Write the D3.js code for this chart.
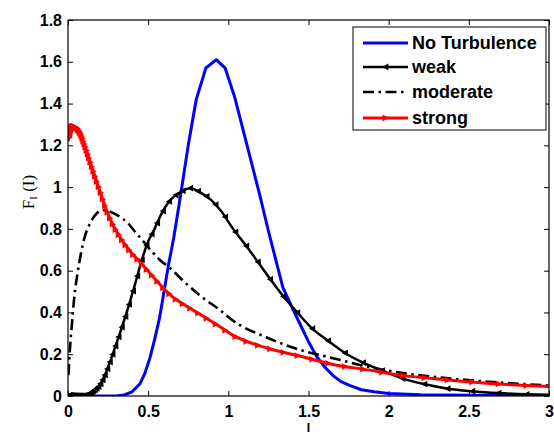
<!DOCTYPE html>
<html>
<head>
<meta charset="utf-8">
<script src="https://cdn.jsdelivr.net/npm/d3@7"></script>
<style>
  body { margin: 0; background: #fff; }
  svg { display: block; }
  .tick text { font-family: "Liberation Sans", Arial, sans-serif; font-weight: bold; font-size: 16px; fill: #000; }
</style>
</head>
<body>
<div id="chart"></div>
<script>
// ---- data: [I, F_I(I)] ----
var noTurbulence = [
  [0, 0], [0.30, 0], [0.35, 0.005], [0.40, 0.02], [0.45, 0.06], [0.48, 0.11], [0.51, 0.18],
  [0.54, 0.27], [0.57, 0.37], [0.59, 0.46], [0.625, 0.62], [0.66, 0.76], [0.70, 0.95],
  [0.75, 1.20], [0.80, 1.42], [0.86, 1.57], [0.925, 1.61], [0.98, 1.57], [1.04, 1.43],
  [1.10, 1.25], [1.15, 1.10], [1.20, 0.95], [1.25, 0.79], [1.30, 0.64], [1.34, 0.52],
  [1.40, 0.42], [1.45, 0.34], [1.50, 0.26], [1.55, 0.19], [1.60, 0.14], [1.65, 0.10],
  [1.70, 0.07], [1.76, 0.05], [1.83, 0.03], [1.91, 0.02], [2.0, 0.012], [2.2, 0.006],
  [2.5, 0.003], [3.0, 0.001]
];
var weak = [
  [0, 0], [0.08, 0], [0.12, 0.006], [0.16, 0.025], [0.20, 0.055], [0.23, 0.10], [0.26, 0.16],
  [0.31, 0.27], [0.37, 0.41], [0.42, 0.54], [0.46, 0.65], [0.50, 0.74], [0.54, 0.80],
  [0.575, 0.86], [0.64, 0.94], [0.70, 0.975], [0.76, 0.995], [0.825, 0.975], [0.89, 0.94],
  [0.95, 0.89], [1.03, 0.80], [1.12, 0.71], [1.20, 0.625], [1.27, 0.55], [1.35, 0.47],
  [1.43, 0.40], [1.52, 0.325], [1.63, 0.26], [1.74, 0.20], [1.84, 0.16], [1.95, 0.125],
  [2.07, 0.088], [2.22, 0.057], [2.37, 0.035], [2.52, 0.023], [2.69, 0.014], [2.86, 0.008],
  [3.0, 0.006]
];
var moderate = [
  [0.003, 0.10], [0.01, 0.20], [0.025, 0.35], [0.04, 0.48], [0.06, 0.59], [0.08, 0.68],
  [0.10, 0.75], [0.14, 0.83], [0.18, 0.875], [0.22, 0.89], [0.27, 0.88], [0.32, 0.86],
  [0.37, 0.83], [0.42, 0.785], [0.47, 0.74], [0.525, 0.69], [0.575, 0.65], [0.64, 0.61],
  [0.72, 0.55], [0.825, 0.48], [0.95, 0.41], [1.03, 0.36], [1.24, 0.28], [1.45, 0.22],
  [1.66, 0.18], [1.87, 0.14], [2.07, 0.112], [2.37, 0.085], [2.68, 0.065], [3.0, 0.05]
];
var strong = [
  [0.001, 1.22], [0.01, 1.26], [0.03, 1.29], [0.05, 1.285], [0.075, 1.26], [0.10, 1.21],
  [0.13, 1.14], [0.16, 1.07], [0.20, 0.98], [0.24, 0.89], [0.28, 0.82], [0.325, 0.76],
  [0.38, 0.70], [0.45, 0.64], [0.52, 0.58], [0.59, 0.52], [0.66, 0.47], [0.74, 0.43],
  [0.825, 0.39], [0.95, 0.33], [1.03, 0.29], [1.24, 0.23], [1.45, 0.19], [1.66, 0.15],
  [1.87, 0.125], [2.07, 0.10], [2.37, 0.077], [2.68, 0.058], [3.0, 0.045]
];
var seriesNames = ["No Turbulence", "weak", "moderate", "strong"];
var xTicks = [0, 0.5, 1, 1.5, 2, 2.5, 3];
var yTicks = [0, 0.2, 0.4, 0.6, 0.8, 1, 1.2, 1.4, 1.6, 1.8];

// ---- layout ----
var svgWidth = 554, svgHeight = 435;
var margin = { top: 20, right: 5, bottom: 39, left: 68 };
var width = svgWidth - margin.left - margin.right;   // 481
var height = svgHeight - margin.top - margin.bottom; // 376

var svg = d3.select("#chart").append("svg")
  .attr("width", svgWidth)
  .attr("height", svgHeight);
var g = svg.append("g").attr("transform", `translate(${margin.left},${margin.top})`);

var x = d3.scaleLinear().domain([0, 3]).range([0, width]);
var y = d3.scaleLinear().domain([0, 1.8]).range([height, 0]);

var fmt = d => String(+d.toFixed(1));

// axes (ticks point inward like MATLAB)
g.append("g").attr("transform", `translate(0,${height})`)
  .call(d3.axisBottom(x).tickValues(xTicks).tickFormat(fmt).tickSizeInner(-5).tickSizeOuter(0).tickPadding(10));
g.append("g")
  .call(d3.axisLeft(y).tickValues(yTicks).tickFormat(fmt).tickSizeInner(-5).tickSizeOuter(0).tickPadding(6));
g.append("g")
  .call(d3.axisTop(x).tickValues(xTicks).tickFormat("").tickSizeInner(-5).tickSizeOuter(0));
g.append("g").attr("transform", `translate(${width},0)`)
  .call(d3.axisRight(y).tickValues(yTicks).tickFormat("").tickSizeInner(-5).tickSizeOuter(0));
g.selectAll(".domain").remove();
g.selectAll(".tick line").attr("stroke", "#000").attr("stroke-width", 1);

g.append("defs").append("clipPath").attr("id", "clip")
  .append("rect").attr("width", width).attr("height", height);

var line = d3.line().x(d => x(d[0])).y(d => y(d[1])).curve(d3.curveMonotoneX);
var lineLinear = d3.line().x(d => x(d[0])).y(d => y(d[1]));
var plot = g.append("g").attr("clip-path", "url(#clip)");

function tri(dir, s) {
  // dir -1 = points left, +1 = points right
  return `M${dir * s},0L${-dir * s * 0.85},${-s}L${-dir * s * 0.85},${s}Z`;
}

// marker glyphs: placed along the drawn curve at log-spaced I positions
function addMarkers(pathSel, color, dir) {
  var node = pathSel.node();
  var L = node.getTotalLength();
  var spots = [];
  for (var I = 2.86; I > 0.004; I /= 1.065) spots.push(x(I));
  var pts = spots.map(px => {
    var lo = 0, hi = L;
    for (var k = 0; k < 28; k++) {
      var mid = (lo + hi) / 2;
      if (node.getPointAtLength(mid).x < px) lo = mid; else hi = mid;
    }
    return node.getPointAtLength(lo);
  });
  plot.selectAll(null).data(pts).enter().append("path")
    .attr("d", tri(dir, 3.4))
    .attr("transform", p => `translate(${p.x},${p.y})`)
    .attr("fill", color);
}

plot.append("path").datum(noTurbulence).attr("d", lineLinear)
  .attr("fill", "none").attr("stroke", "#0000ff").attr("stroke-width", 3)
  .attr("stroke-linejoin", "round");

var weakPath = plot.append("path").datum(weak).attr("d", line)
  .attr("fill", "none").attr("stroke", "#000").attr("stroke-width", 2.5);
addMarkers(weakPath, "#000", -1);

plot.append("path").datum(moderate).attr("d", line)
  .attr("fill", "none").attr("stroke", "#000").attr("stroke-width", 2.6)
  .attr("stroke-dasharray", "11,4.5,2.5,4.5");

var strongPath = plot.append("path").datum(strong).attr("d", line)
  .attr("fill", "none").attr("stroke", "#ff0000").attr("stroke-width", 3);
addMarkers(strongPath, "#ff0000", 1);

// box
g.append("rect").attr("width", width).attr("height", height)
  .attr("fill", "none").attr("stroke", "#000").attr("stroke-width", 1.2);

// axis labels
svg.append("text")
  .attr("x", margin.left + width / 2).attr("y", 432.3)
  .attr("text-anchor", "middle")
  .style("font-family", "'Liberation Sans', Arial, sans-serif")
  .style("font-weight", "bold").style("font-size", "12px")
  .text("I");

var yl = svg.append("text")
  .attr("transform", "translate(34,192) rotate(-90)")
  .attr("text-anchor", "middle")
  .style("font-family", "'Liberation Serif', 'Times New Roman', serif")
  .style("font-size", "17px");
yl.append("tspan").text("F");
yl.append("tspan").attr("dy", 3).style("font-size", "11px").text("I");
yl.append("tspan").attr("dy", -3).text(" (I)");

// legend
var lg = svg.append("g").attr("transform", "translate(353,27)");
lg.append("rect").attr("width", 193).attr("height", 103)
  .attr("fill", "#fff").attr("stroke", "#000").attr("stroke-width", 1);
var rows = [
  { color: "#0000ff", w: 3, dash: null, marker: 0 },
  { color: "#000", w: 2.5, dash: null, marker: -1 },
  { color: "#000", w: 2.6, dash: "11,4.5,2.5,4.5", marker: 0 },
  { color: "#ff0000", w: 3, dash: null, marker: 1 }
];
var rowY = [16, 40, 65, 91];
seriesNames.forEach((name, i) => {
  var r = rows[i];
  var ly = rowY[i];
  lg.append("line").attr("x1", 10).attr("x2", 55).attr("y1", ly).attr("y2", ly)
    .attr("stroke", r.color).attr("stroke-width", r.w)
    .attr("stroke-dasharray", r.dash);
  if (r.marker) {
    lg.append("path").attr("d", tri(r.marker, 3.4))
      .attr("transform", `translate(32.5,${ly})`).attr("fill", r.color);
  }
  lg.append("text").attr("x", 59).attr("y", ly).attr("dy", "0.36em")
    .style("font-family", "'Liberation Sans', Arial, sans-serif")
    .style("font-weight", "bold").style("font-size", "18px")
    .text(name);
});
</script>
</body>
</html>
